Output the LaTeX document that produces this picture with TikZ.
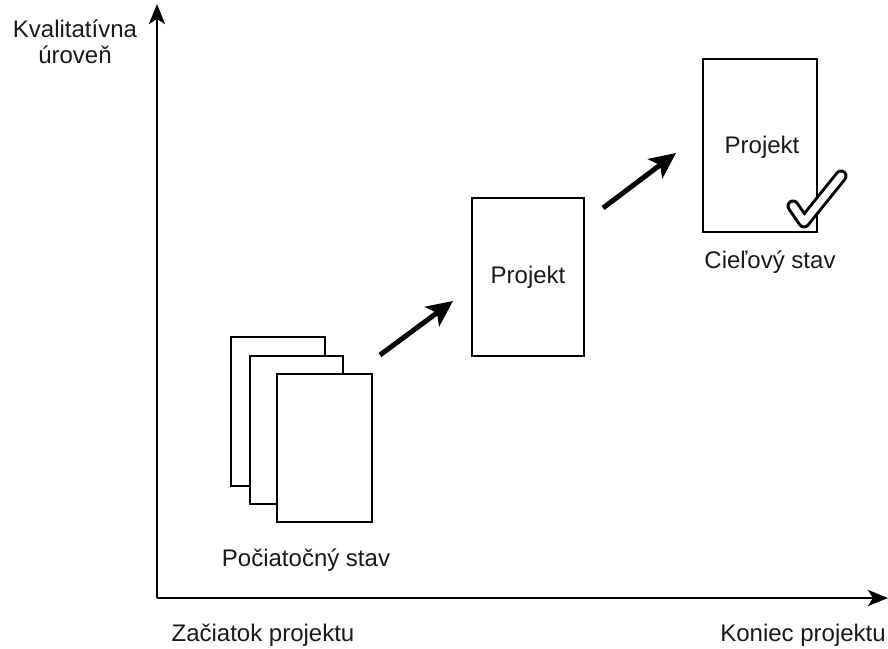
\documentclass[tikz,border=0pt]{standalone}
\usepackage{fontspec}
\setmainfont{Liberation Sans}
\usetikzlibrary{arrows.meta}
\definecolor{txt}{HTML}{1A1A1A}
\tikzset{
  box/.style={draw=black, line width=2.8pt, fill=white, inner sep=0pt},
  lbl/.style={text=txt, font=\fontsize{24}{26}\selectfont, inner sep=0pt},
  axis/.style={line width=2.8pt, -{Stealth[length=20pt,width=16pt,inset=5pt]}},
  move/.style={line width=5pt, -{Stealth[length=26pt,width=24pt,inset=6pt]}},
}
\begin{document}
\begin{tikzpicture}[x=1pt,y=-1pt]
\useasboundingbox (0,0) rectangle (888,648);
% axes
\coordinate (o) at (157,598);
\coordinate (ytop) at (157,4);
\coordinate (xend) at (888,598);
\draw[axis] (o) -- (ytop);
\draw[axis] (o) -- (xend);
\node[lbl, align=center] (ylab) at (75,42) {Kvalitatívna\\úroveň};
\node[lbl] (xstart) at (263,635) {Začiatok projektu};
\node[lbl, anchor=east] (xendlab) at (886,635) {Koniec projektu};
% stack
\node[box, minimum width=94pt, minimum height=149pt] (r1) at (278,411.5) {};
\node[box, minimum width=93pt, minimum height=148pt] (r2) at (296.5,430) {};
\node[box, minimum width=95pt, minimum height=148pt] (r3) at (324.5,448) {};
\node[lbl] (start) at (306,560) {Počiatočný stav};
% middle
\node[box, minimum width=112pt, minimum height=158pt] (mid) at (528,277) {};
\node[lbl] (midt) at (528,277) {Projekt};
% goal
\node[box, minimum width=114pt, minimum height=173pt] (goal) at (760,145.5) {};
\node[lbl] (goalt) at (762,147) {Projekt};
\node[lbl] (goall) at (770,262) {Cieľový stav};
% check mark
\coordinate (c1) at (793,206);
\coordinate (c2) at (804,222);
\coordinate (c3) at (841,176);
\draw[line width=13pt, line cap=round, line join=round] (c1) -- (c2) -- (c3);
\draw[white, line width=7pt, line cap=round, line join=round] (c1) -- (c2) -- (c3);
% arrows
\coordinate (a1s) at (380,355);
\coordinate (a1e) at (453,301);
\coordinate (a2s) at (603,208);
\coordinate (a2e) at (676,153);
\draw[move] (a1s) -- (a1e);
\draw[move] (a2s) -- (a2e);
\end{tikzpicture}
\end{document}
